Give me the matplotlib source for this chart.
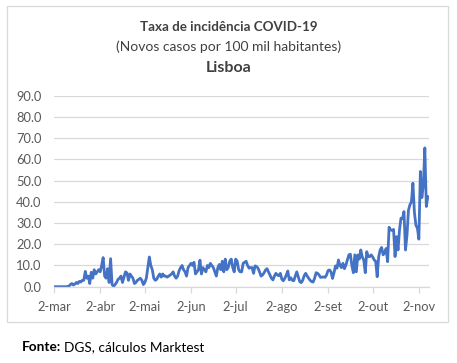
import matplotlib
matplotlib.use("Agg")
import matplotlib.pyplot as plt
from matplotlib.patches import Rectangle
import pandas as pd

start_date = "2020-03-02"
values = [
    # Mar 2 - Apr 1
    0, 0, 0, 0, 0, 0, 0, 0, 0, 0.1, 0.2, 1.0, 1.5, 0.8, 1.2, 2.0, 1.5, 2.5, 2.2, 3.0,
    3.0, 7.2, 4.0, 5.0, 1.5, 6.8, 4.0, 8.0, 6.0, 7.0, 8.0,
    # Apr 2 - May 1
    7.0, 10.0, 13.7, 5.0, 4.0, 8.5, 2.0, 13.2, 1.0, 0.2, 1.0, 2.0, 3.5, 4.0, 5.0, 2.0,
    4.5, 7.0, 6.5, 3.0, 6.0, 5.0, 4.0, 1.5, 2.0, 3.0, 3.5, 4.0, 3.0, 1.0,
    # May 2 - Jun 1
    2.0, 4.0, 9.0, 14.0, 10.0, 8.0, 4.0, 3.0, 3.5, 5.0, 6.0, 4.5, 6.0, 5.0, 5.0, 4.5,
    5.0, 5.5, 6.0, 7.0, 5.0, 4.0, 5.0, 7.5, 9.0, 10.0, 8.0, 7.0, 5.0, 9.0, 10.0,
    # Jun 2 - Jul 1
    11.0, 10.0, 11.5, 6.0, 7.0, 8.0, 12.5, 6.0, 9.0, 8.0, 7.0, 10.0, 9.0, 11.0, 10.0,
    9.0, 7.0, 5.0, 9.0, 10.5, 8.0, 12.0, 7.0, 13.0, 8.0, 9.0, 12.0, 13.0, 9.0, 7.0,
    # Jul 2 - Aug 1
    13.0, 12.0, 8.0, 7.0, 7.0, 11.0, 11.5, 12.0, 10.0, 8.7, 9.0, 9.0, 6.3, 9.8, 9.5,
    8.7, 7.0, 5.0, 5.5, 6.5, 7.8, 8.5, 7.0, 5.5, 4.0, 3.2, 5.0, 6.3, 5.5, 5.2, 6.3,
    # Aug 2 - Sep 1
    3.5, 2.8, 4.0, 5.5, 7.4, 3.2, 4.2, 3.0, 2.8, 5.0, 7.0, 4.7, 2.4, 1.9, 3.0, 5.2,
    6.3, 5.0, 4.0, 3.0, 2.4, 2.2, 4.0, 6.6, 6.3, 5.5, 4.4, 4.5, 4.6, 4.4, 5.5,
    # Sep 2 - Oct 1
    7.6, 7.9, 7.0, 3.9, 6.5, 9.8, 8.7, 12.6, 10.0, 9.0, 11.0, 8.5, 10.2, 12.6, 15.0,
    15.3, 10.0, 6.6, 15.0, 7.0, 15.0, 13.0, 17.3, 14.0, 12.6, 6.6, 16.5, 14.2, 14.2, 15.0,
    # Oct 2 - Nov 1
    14.0, 12.6, 12.0, 4.7, 14.0, 17.3, 18.5, 15.0, 16.0, 18.0, 11.8, 28.0, 26.8, 26.5,
    27.0, 14.2, 23.6, 17.3, 26.8, 32.3, 32.0, 35.4, 17.3, 24.0, 36.0, 38.6, 40.0, 48.8,
    35.0, 29.0, 27.6,
    # Nov 2 - Nov 9
    22.4, 54.3, 42.0, 48.0, 65.4, 37.8, 42.5, 42.0,
]
y_ticks = [0, 10, 20, 30, 40, 50, 60, 70, 80, 90]
x_tick_dates = ["2020-03-02", "2020-04-02", "2020-05-02", "2020-06-02", "2020-07-02",
                "2020-08-02", "2020-09-02", "2020-10-02", "2020-11-02"]
x_tick_labels = ["2-mar", "2-abr", "2-mai", "2-jun", "2-jul", "2-ago", "2-set", "2-out", "2-nov"]
title1 = "Taxa de incidência COVID-19"
title2 = "(Novos casos por 100 mil habitantes)"
title3 = "Lisboa"

plt.rcParams["font.family"] = ["Lato", "DejaVu Sans"]

dates = pd.date_range(start_date, periods=len(values), freq="D")

W, H = 457, 363
fig = plt.figure(figsize=(W / 100, H / 100), dpi=100)
fig.patch.set_facecolor("white")

# chart border
fig.patches.append(Rectangle((7 / W, 1 - 322 / H), 441 / W, 316 / H,
                             transform=fig.transFigure, fill=False,
                             edgecolor="#D9D9D9", linewidth=0.9))

ax = fig.add_axes([54 / W, 1 - 286.7 / H, (429.3 - 54) / W, (286.7 - 95.7) / H])
ax.plot(dates, values, color="#4472C4", linewidth=2.0, solid_joinstyle="round")

ax.set_ylim(0, 90)
ax.set_yticks(y_ticks)
ax.set_yticklabels([f"{v:.1f}" for v in y_ticks])
ax.set_xlim(dates[0], dates[-1])
ax.set_xticks(pd.to_datetime(x_tick_dates))
ax.set_xticklabels(x_tick_labels)

for s in ["top", "right", "left"]:
    ax.spines[s].set_visible(False)
ax.spines["bottom"].set_color("#D9D9D9")
ax.spines["bottom"].set_linewidth(0.9)
ax.grid(axis="y", color="#D9D9D9", linewidth=0.9)
ax.set_axisbelow(True)
ax.tick_params(axis="y", length=0, pad=9, labelsize=9.3, labelcolor="#595959")
ax.tick_params(axis="x", length=4, width=0.9, color="#D9D9D9", pad=6,
               labelsize=9.3, labelcolor="#595959")

fig.text(0.5, 1 - 27 / H, title1, ha="center", va="center", fontsize=9.6,
         fontweight="bold", color="#404040")
fig.text(0.5, 1 - 47 / H, title2, ha="center", va="center", fontsize=10,
         color="#404040")
fig.text(0.5, 1 - 68 / H, title3, ha="center", va="center", fontsize=11.5,
         fontweight="bold", color="#404040")

t1 = fig.text(22 / W, 1 - 347 / H, "Fonte:", ha="left", va="center", fontsize=9.8,
              fontweight="bold", color="black")
fig.canvas.draw()
bb = t1.get_window_extent()
fig.text((bb.x1 + 3) / W, 1 - 347 / H, "DGS, cálculos Marktest", ha="left",
         va="center", fontsize=9.8, color="black")

fig.savefig("out.png", dpi=100)
